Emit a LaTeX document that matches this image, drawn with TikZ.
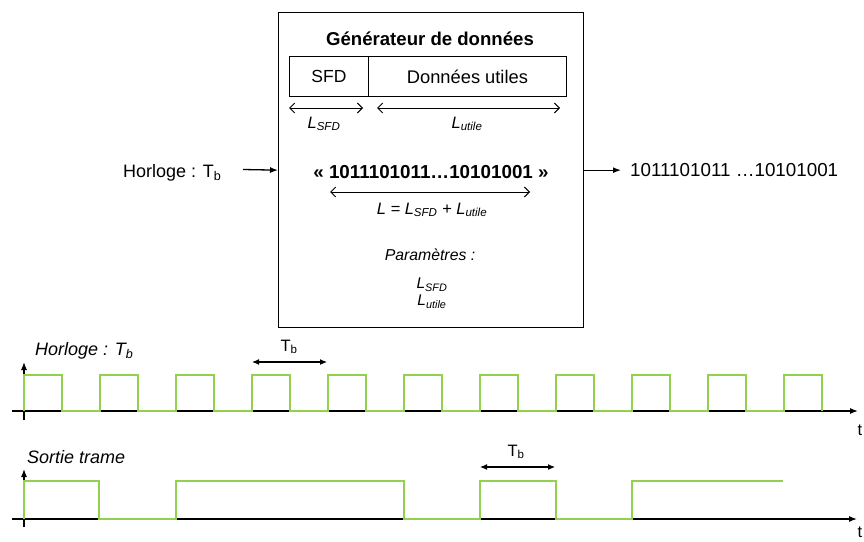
\documentclass[tikz,border=0pt]{standalone}
\usepackage{fontspec}
\setmainfont{Liberation Sans}
\usetikzlibrary{arrows.meta}
\definecolor{sig}{RGB}{146,208,80}
\begin{document}
\begin{tikzpicture}[x=1pt,y=-1pt,
  txt/.style={font=\fontsize{16.5}{19}\selectfont, inner sep=0pt},
  lbl/.style={font=\fontsize{18}{21}\selectfont\itshape, inner sep=0pt},
  dimarr/.style={{Straight Barb[length=5pt,width=10pt]}-{Straight Barb[length=5pt,width=10pt]}, line width=1pt},
  solidarr/.style={-{Latex[length=8pt,width=6pt]}, line width=1.3pt},
  tbarr/.style={{Latex[length=7pt,width=6pt]}-{Latex[length=7pt,width=6pt]}, line width=1.1pt},
  axis/.style={line width=1.2pt, -{Latex[length=8pt,width=6pt]}},
  sigline/.style={draw=sig, line width=2.5pt},
]
\useasboundingbox (0,0) rectangle (864,541);

% generator box
\node[draw, line width=1.3pt, minimum width=305pt, minimum height=315pt, anchor=north west, inner sep=0pt] (gen) at (278,12) {};
\node[txt, font=\fontsize{18.6}{21}\selectfont\bfseries, anchor=base] (title) at (430,45) {Générateur de données};
\node[txt, font=\fontsize{17.5}{20}\selectfont, draw, line width=0.9pt, minimum width=79pt, minimum height=40pt, anchor=north west] (sfd) at (289,56) {SFD};
\node[txt, font=\fontsize{18.3}{21}\selectfont, draw, line width=0.9pt, minimum width=198pt, minimum height=40pt, anchor=north west] (du) at (368,56) {Données utiles};

\coordinate (a1) at (289,108); \coordinate (a2) at (363,108);
\coordinate (b1) at (377,108); \coordinate (b2) at (560,108);
\draw[dimarr] (a1) -- (a2);
\draw[dimarr] (b1) -- (b2);
\node[txt, anchor=base] (lsfd) at (324,128) {\itshape L\textsubscript{SFD}};
\node[txt, anchor=base] (lutile) at (467,128) {\itshape L\textsubscript{utile}};

\node[txt, font=\fontsize{18.8}{21}\selectfont\bfseries, anchor=base] (bits) at (431,178) {« 1011101011…10101001 »};
\coordinate (c1) at (330,192); \coordinate (c2) at (530,192);
\draw[dimarr] (c1) -- (c2);
\node[txt, anchor=base] (lform) at (432,214) {\itshape L = L\textsubscript{SFD} + L\textsubscript{utile}};

\node[txt, font=\fontsize{15.8}{18}\selectfont\itshape] (par) at (430,255) {Paramètres :};
\node[txt, font=\fontsize{15.5}{18}\selectfont\itshape] (p1) at (432,285) {L\textsubscript{SFD}};
\node[txt, font=\fontsize{15.5}{18}\selectfont\itshape] (p2) at (432,302) {L\textsubscript{utile}};

% input / output
\node[txt, font=\fontsize{18}{21}\selectfont, anchor=base west] (hin) at (123,177) {Horloge : T\textsubscript{b}};
\coordinate (hs) at (243,169.5);
\draw[solidarr] (hs) -- (gen.west);
\node[txt, font=\fontsize{18.8}{21}\selectfont, anchor=base west] (out) at (630,176) {1011101011 …10101001};
\draw[solidarr, shorten >=9pt] (gen.east) -- (out.west |- gen.east);

% timing 1
\node[lbl, anchor=west] (h1) at (35,351) {Horloge : T\textsubscript{b}};
\coordinate (y1b) at (24,420); \coordinate (y1t) at (24,362);
\coordinate (x1l) at (12,411); \coordinate (x1r) at (858,411);
\draw[axis] (y1b) -- (y1t);
\draw[axis] (x1l) -- (x1r);
\node[txt] (t1) at (860,430) {t};
\path[sigline] (24,411) \foreach \k in {0,...,9}{ -- ++(0,-36) -- ++(38,0) -- ++(0,36) -- ++(38,0) } -- ++(0,-36) -- ++(38,0) -- ++(0,36);
\coordinate (tb1a) at (252,362); \coordinate (tb1b) at (327,362);
\draw[tbarr] (tb1a) -- (tb1b);
\node[txt] (tb1) at (289,347) {T\textsubscript{b}};

% timing 2
\node[lbl, anchor=west] (s2) at (27,457) {Sortie trame};
\coordinate (y2b) at (24,527); \coordinate (y2t) at (24,469);
\coordinate (x2l) at (12,519); \coordinate (x2r) at (857,519);
\draw[axis] (y2b) -- (y2t);
\draw[axis] (x2l) -- (x2r);
\node[txt] (t2) at (860,532) {t};
\path[sigline] (24,519) -- (24,481) -- (99,481) -- (99,519) -- (176,519) -- (176,481) -- (404,481) -- (404,519) -- (480,519) -- (480,481) -- (556,481) -- (556,519) -- (632,519) -- (632,481) -- (783,481);
\coordinate (tb2a) at (480,467); \coordinate (tb2b) at (555,467);
\draw[tbarr] (tb2a) -- (tb2b);
\node[txt] (tb2) at (516,452) {T\textsubscript{b}};
\end{tikzpicture}
\end{document}
